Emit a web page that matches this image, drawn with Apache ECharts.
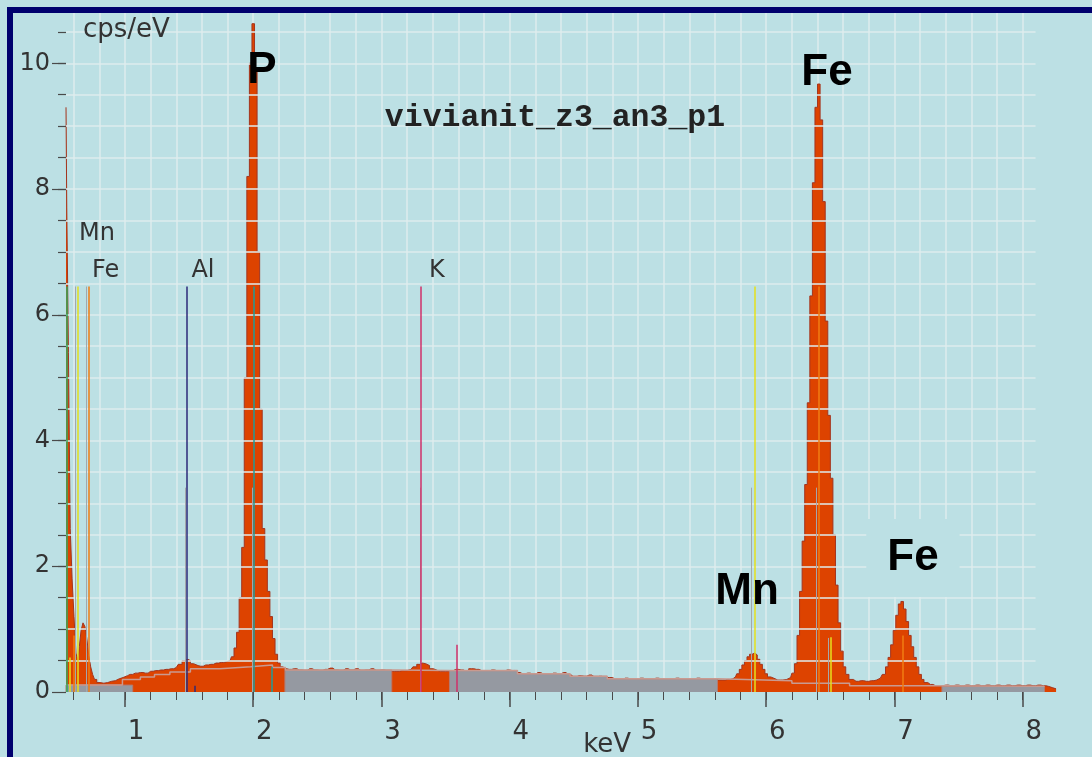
<!DOCTYPE html>
<html>
<head>
<meta charset="utf-8">
<script src="https://cdn.jsdelivr.net/npm/echarts@6/dist/echarts.min.js"></script>
<style>
  html, body { margin: 0; padding: 0; background: #BCE0E4; }
  #chart { width: 1092px; height: 757px; }
</style>
</head>
<body>
<div id="chart"></div>
<script>
// EDS spectrum, vivianite sample, point z3 / an3 / p1

// Measured spectrum (keV, counts per second per eV)
const spectrumKeV = [
  0.540, 0.552, 0.566, 0.580, 0.595, 0.610, 0.625, 0.638, 0.650,
  0.665, 0.680, 0.695, 0.710, 0.725, 0.740, 0.755, 0.770, 0.790, 0.820,
  0.850, 0.880, 0.910, 0.940, 0.970, 1.000, 1.040, 1.080, 1.120, 1.160,
  1.200, 1.240, 1.280, 1.320, 1.360, 1.400, 1.430, 1.460, 1.480, 1.500,
  1.520, 1.550, 1.590, 1.630, 1.670, 1.710, 1.750, 1.790, 1.820, 1.840,
  1.860, 1.880, 1.900, 1.920, 1.940, 1.960, 1.980, 2.000, 2.020, 2.040,
  2.060, 2.080, 2.100, 2.120, 2.140, 2.160, 2.180, 2.200, 2.220, 2.240,
  2.280, 2.320, 2.360, 2.400, 2.440, 2.480, 2.520, 2.560, 2.600, 2.640,
  2.680, 2.720, 2.760, 2.800, 2.840, 2.880, 2.920, 2.960, 3.000, 3.040,
  3.080, 3.120, 3.160, 3.200, 3.230, 3.260, 3.290, 3.310, 3.330, 3.360,
  3.390, 3.420, 3.460, 3.500, 3.540, 3.580, 3.620, 3.660, 3.700, 3.740,
  3.780, 3.820, 3.860, 3.900, 3.940, 3.980, 4.020, 4.060, 4.100, 4.140,
  4.180, 4.220, 4.260, 4.300, 4.340, 4.380, 4.420, 4.460, 4.500, 4.540,
  4.580, 4.620, 4.660, 4.700, 4.740, 4.780, 4.820, 4.860, 4.900, 4.940,
  4.980, 5.020, 5.060, 5.100, 5.140, 5.180, 5.220, 5.260, 5.300, 5.340,
  5.380, 5.420, 5.460, 5.500, 5.540, 5.580, 5.620, 5.660, 5.700, 5.740,
  5.760, 5.780, 5.800, 5.820, 5.840, 5.860, 5.880, 5.900, 5.920, 5.940,
  5.960, 5.980, 6.000, 6.020, 6.050, 6.090, 6.130, 6.160, 6.190, 6.210,
  6.230, 6.250, 6.270, 6.290, 6.310, 6.330, 6.350, 6.370, 6.390, 6.410,
  6.430, 6.450, 6.470, 6.490, 6.510, 6.530, 6.550, 6.570, 6.590, 6.610,
  6.630, 6.660, 6.700, 6.740, 6.780, 6.820, 6.860, 6.890, 6.920, 6.940,
  6.960, 6.980, 7.000, 7.020, 7.040, 7.060, 7.080, 7.100, 7.120, 7.140,
  7.160, 7.180, 7.200, 7.220, 7.240, 7.280, 7.320, 7.360, 7.400, 7.440,
  7.480, 7.520, 7.560, 7.600, 7.640, 7.680, 7.720, 7.760, 7.800, 7.840,
  7.880, 7.920, 7.960, 8.000, 8.040, 8.080, 8.120, 8.160, 8.200, 8.230, 8.260
];
const spectrumCps = [
  9.30, 7.70, 5.40, 2.60, 1.80, 1.20, 0.62, 0.50, 0.72,
  0.98, 1.10, 1.04, 0.85, 0.58, 0.40, 0.28, 0.20, 0.15, 0.14,
  0.15, 0.17, 0.18, 0.21, 0.23, 0.26, 0.28, 0.30, 0.31, 0.30,
  0.33, 0.34, 0.35, 0.36, 0.37, 0.39, 0.44, 0.50, 0.52, 0.50,
  0.45, 0.42, 0.41, 0.43, 0.44, 0.46, 0.47, 0.48, 0.50, 0.56,
  0.70, 0.95, 1.50, 2.30, 5.00, 8.20, 10.00, 10.63, 9.90, 7.00,
  4.50, 2.60, 2.10, 1.60, 1.20, 0.85, 0.60, 0.46, 0.40, 0.37,
  0.36, 0.37, 0.35, 0.34, 0.37, 0.35, 0.34, 0.36, 0.38, 0.35,
  0.34, 0.37, 0.35, 0.37, 0.34, 0.35, 0.37, 0.34, 0.35, 0.34,
  0.33, 0.33, 0.34, 0.34, 0.36, 0.40, 0.44, 0.46, 0.45, 0.42,
  0.37, 0.34, 0.33, 0.33, 0.34, 0.36, 0.35, 0.33, 0.37, 0.36,
  0.34, 0.33, 0.35, 0.34, 0.33, 0.35, 0.34, 0.31, 0.29, 0.30,
  0.28, 0.31, 0.29, 0.28, 0.30, 0.29, 0.31, 0.27, 0.24, 0.26,
  0.25, 0.27, 0.24, 0.25, 0.23, 0.23, 0.21, 0.20, 0.22, 0.21,
  0.20, 0.22, 0.21, 0.20, 0.22, 0.21, 0.20, 0.21, 0.22, 0.20,
  0.21, 0.20, 0.22, 0.21, 0.20, 0.21, 0.19, 0.19, 0.20, 0.21,
  0.24, 0.29, 0.36, 0.43, 0.50, 0.56, 0.60, 0.62, 0.59, 0.52,
  0.44, 0.36, 0.29, 0.24, 0.21, 0.19, 0.19, 0.20, 0.23, 0.30,
  0.45, 0.90, 1.60, 2.40, 3.30, 4.60, 6.30, 8.10, 9.30, 9.67,
  9.10, 7.80, 5.90, 4.40, 3.40, 2.50, 1.70, 1.10, 0.65, 0.40,
  0.28, 0.20, 0.17, 0.18, 0.17, 0.18, 0.19, 0.22, 0.28, 0.40,
  0.55, 0.75, 0.98, 1.22, 1.40, 1.44, 1.32, 1.12, 0.90, 0.72,
  0.55, 0.40, 0.28, 0.20, 0.15, 0.12, 0.10, 0.10, 0.11, 0.10,
  0.11, 0.10, 0.11, 0.10, 0.11, 0.10, 0.11, 0.10, 0.11, 0.10,
  0.11, 0.10, 0.11, 0.10, 0.11, 0.10, 0.11, 0.10, 0.09, 0.07, 0.05
];

// Fitted background (step levels, keV / cps/eV)
const backgroundKeV = [0.54, 0.98, 1.12, 1.23, 1.35, 1.51, 1.74, 1.98, 2.15, 2.25, 3.08, 3.53, 4.06, 4.47, 4.76, 5.62, 6.20, 6.65, 7.37, 8.17];
const backgroundCps = [0.11, 0.20, 0.24, 0.28, 0.32, 0.37, 0.40, 0.43, 0.39, 0.35, 0.34, 0.34, 0.29, 0.25, 0.21, 0.18, 0.14, 0.10, 0.09, 0.09];

// Background windows (filled regions)
const windowAKeV = [0.54, 0.54, 1.06, 1.06];
const windowACps = [0, 0.11, 0.11, 0];
const windowBKeV = [2.247, 2.247, 3.08, 3.08];
const windowBCps = [0, 0.35, 0.35, 0];
const windowCKeV = [3.53, 3.53, 4.06, 4.47, 4.76, 5.62, 5.62];
const windowCCps = [0, 0.34, 0.29, 0.25, 0.21, 0.21, 0];
const windowDKeV = [7.37, 7.37, 8.17, 8.17];
const windowDCps = [0, 0.09, 0.09, 0];

// Element line markers
const lineElements = ['O', 'Mn', 'Fe', 'Mn', 'Fe', 'Al', 'Al', 'P', 'P', 'K', 'K', 'Mn', 'Mn', 'Fe', 'Fe'];
const lineKeV      = [0.542, 0.566, 0.602, 0.634, 0.716, 1.483, 1.546, 2.006, 2.146, 3.308, 3.588, 5.912, 6.502, 6.406, 7.066];
const lineCps      = [6.45, 0.55, 0.90, 6.45, 6.45, 6.45, 0.10, 6.45, 0.40, 6.45, 0.75, 6.45, 0.87, 6.45, 0.90];

// Reference (theoretical) line positions
const refLineKeV = [0.610, 0.701, 1.473, 1.993, 3.300, 5.887, 6.388, 6.484];
const refLineCps = [6.45, 6.45, 3.25, 3.25, 3.25, 3.25, 3.25, 0.86];

// Element line labels
const lineLabelText = ['Mn', 'Fe', 'Al', 'K'];
const lineLabelKeV  = [0.634, 0.716, 1.483, 3.308];
const lineLabelCps  = [6.45, 6.45, 6.45, 6.45];

// Peak identification labels
const peakLabelText = ['P', 'Fe', 'Mn', 'Fe'];
const peakLabelKeV  = [2.068, 6.474, 5.850, 7.144];
const peakLabelCps  = [9.88, 9.85, 1.59, 2.13];

// Axis ticks and grid
const xMajorTicks = [1, 2, 3, 4, 5, 6, 7, 8];
const xMinorTicks = [0.6, 0.8, 1.0, 1.2, 1.4, 1.6, 1.8, 2.0, 2.2, 2.4, 2.6, 2.8, 3.0, 3.2, 3.4, 3.6, 3.8, 4.0,
                     4.2, 4.4, 4.6, 4.8, 5.0, 5.2, 5.4, 5.6, 5.8, 6.0, 6.2, 6.4, 6.6, 6.8, 7.0, 7.2, 7.4, 7.6, 7.8, 8.0];
const yMajorTicks = [0, 2, 4, 6, 8, 10];
const yMinorTicks = [0.5, 1, 1.5, 2, 2.5, 3, 3.5, 4, 4.5, 5, 5.5, 6, 6.5, 7, 7.5, 8, 8.5, 9, 9.5, 10, 10.5];
const gridKeVRange = [0.54, 8.1];

const TITLE = 'vivianit_z3_an3_p1';

// ---- styling ----
const BG = '#BCE0E4';
const NAVY = '#00006E';
const GRIDLINE = '#DEECEE';
const TICK = '#4A4A4A';
const TEXT = '#333333';
const SANS = '"DejaVu Sans", Verdana, sans-serif';
const BOLD = '"Liberation Sans", Arial, sans-serif';
const elementColor = {
  O: '#2DAA5F', Mn: '#E4E01C', Fe: '#F07C12', Al: '#2C2A7A', P: '#1E9C98', K: '#D0306A'
};
const refLineColor = '#A3A7AB';
const lineLabelOffset = { Mn: [19, -53], Fe: [17, -16], Al: [16, -16], K: [16, -16] };

const pairs = (xs, ys) => xs.map((x, i) => [x, ys[i]]);

const windowSeries = [
  [windowAKeV, windowACps], [windowBKeV, windowBCps], [windowCKeV, windowCCps], [windowDKeV, windowDCps]
].map(([xs, ys]) => ({
  type: 'line', step: 'end', data: pairs(xs, ys), showSymbol: false, silent: true, clip: false, z: 3,
  lineStyle: { color: '#B27A72', width: 1 },
  areaStyle: { color: '#9599A1', opacity: 1 }
}));

const markerLines = [];
refLineKeV.forEach((e, i) => {
  markerLines.push([{ coord: [e, 0], lineStyle: { color: refLineColor, width: 1 } }, { coord: [e, refLineCps[i]] }]);
});
lineKeV.forEach((e, i) => {
  markerLines.push([{ coord: [e, 0], lineStyle: { color: elementColor[lineElements[i]], width: 1.5 } }, { coord: [e, lineCps[i]] }]);
});

// horizontal grid lines over the calibrated energy range
const hGridLines = yMinorTicks.map(v => [{ coord: [gridKeVRange[0], v] }, { coord: [gridKeVRange[1], v] }]);

const chart = echarts.init(document.getElementById('chart'), null, { renderer: 'canvas' });

chart.setOption({
  animation: false,
  backgroundColor: BG,
  grid: { left: 66, right: 30.8, top: 13, bottom: 65, containLabel: false, outerBoundsMode: 'none' },
  xAxis: [
    {
      type: 'value', min: 0.54, max: 8.3, position: 'bottom',
      axisLine: { show: false },
      axisTick: { show: true, customValues: xMinorTicks, length: 8, lineStyle: { color: TICK, width: 1 } },
      axisLabel: { show: false },
      splitLine: { show: true, lineStyle: { color: GRIDLINE, width: 1.5 } }
    },
    {
      type: 'value', min: 0.54, max: 8.3, position: 'bottom', offset: 0,
      axisLine: { show: false },
      axisTick: { show: true, customValues: xMajorTicks, length: 15, lineStyle: { color: TICK, width: 1.5 } },
      axisLabel: {
        show: true, customValues: xMajorTicks, margin: 27, padding: [0, 0, 0, 22],
        fontFamily: SANS, fontSize: 26, color: TEXT
      },
      splitLine: { show: false },
      name: 'keV', nameLocation: 'middle', nameGap: 40, nameMoveOverlap: false,
      nameTextStyle: { fontFamily: SANS, fontSize: 26, color: TEXT, padding: [0, 0, 0, 87] }
    }
  ],
  yAxis: [
    {
      type: 'value', min: 0, max: 10.8, position: 'left',
      axisLine: { show: false },
      axisTick: { show: true, customValues: yMinorTicks, length: 8, lineStyle: { color: TICK, width: 1.2 } },
      axisLabel: { show: false },
      splitLine: { show: false }
    },
    {
      type: 'value', min: 0, max: 10.8, position: 'left', offset: 0,
      axisLine: { show: false },
      axisTick: { show: true, customValues: yMajorTicks, length: 14, lineStyle: { color: TICK, width: 1.2 } },
      axisLabel: {
        show: true, customValues: yMajorTicks, margin: 16,
        fontFamily: SANS, fontSize: 24, color: TEXT
      },
      splitLine: { show: false }
    }
  ],
  series: [
    {
      name: 'grid', type: 'line', data: [], silent: true, z: 1,
      markLine: {
        silent: true, symbol: ['none', 'none'], animation: false,
        label: { show: false },
        lineStyle: { type: 'solid', color: GRIDLINE, width: 1.5 },
        emphasis: { disabled: true },
        data: hGridLines
      }
    },
    {
      name: 'spectrum', type: 'line', step: 'middle',
      data: pairs(spectrumKeV, spectrumCps),
      showSymbol: false, silent: true, clip: false, z: 2,
      lineStyle: { color: '#A3351F', width: 1 },
      areaStyle: { color: '#DD4300', opacity: 1 },
      markPoint: {
        silent: true, symbol: 'circle', symbolSize: 0, animation: false,
        label: {
          show: true, position: 'inside', formatter: '{b}',
          fontFamily: BOLD, fontWeight: 'bold', fontSize: 44, color: '#000'
        },
        data: peakLabelText.map((t, i) => {
          const item = { name: t, coord: [peakLabelKeV[i], peakLabelCps[i]] };
          if (i === 3) item.label = { backgroundColor: BG, padding: [17, 21] };
          return item;
        })
      }
    },
    ...windowSeries,
    {
      name: 'background', type: 'line', step: 'end',
      data: pairs(backgroundKeV, backgroundCps),
      showSymbol: false, silent: true, clip: false, z: 4,
      lineStyle: { color: '#C99A90', width: 1.5 }
    },
    {
      name: 'lines', type: 'line', data: [], silent: true, clip: false, z: 5,
      markLine: {
        silent: true, symbol: ['none', 'none'], animation: false,
        label: { show: false },
        lineStyle: { type: 'solid' },
        emphasis: { disabled: true },
        data: markerLines
      },
      markPoint: {
        silent: true, symbol: 'circle', symbolSize: 0, animation: false,
        label: {
          show: true, position: 'inside', formatter: '{b}',
          fontFamily: SANS, fontSize: 24, color: TEXT
        },
        data: lineLabelText.map((t, i) => ({
          name: t, coord: [lineLabelKeV[i], lineLabelCps[i]],
          label: { offset: lineLabelOffset[t] }
        }))
      }
    }
  ],
  graphic: [
    {
      type: 'text', left: 83, top: 17, silent: true, z: 100,
      style: { text: 'cps/eV', font: '26px ' + SANS, fill: TEXT }
    },
    {
      type: 'text', x: 555, y: 118, silent: true, z: 100,
      style: {
        text: TITLE, font: 'bold 31.5px "Liberation Mono", "Courier New", monospace',
        fill: '#222', align: 'center', verticalAlign: 'middle'
      }
    },
    { type: 'rect', silent: true, z: 200, shape: { x: 7, y: 7, width: 1085, height: 6 }, style: { fill: NAVY } },
    { type: 'rect', silent: true, z: 200, shape: { x: 7, y: 7, width: 6, height: 750 }, style: { fill: NAVY } }
  ]
});
</script>
</body>
</html>
